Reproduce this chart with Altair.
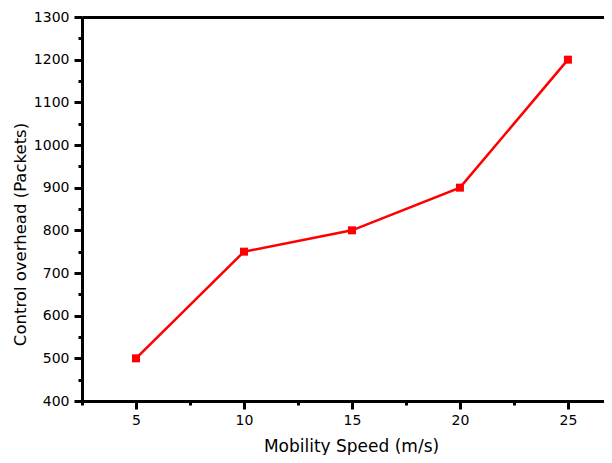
import altair as alt
import pandas as pd

speed = [5, 10, 15, 20, 25]
overhead = [500, 750, 800, 900, 1200]

x_major = [5, 10, 15, 20, 25]
x_minor = [2.5, 7.5, 12.5, 17.5, 22.5]
y_major = [400, 500, 600, 700, 800, 900, 1000, 1100, 1200, 1300]
y_minor = [450, 550, 650, 750, 850, 950, 1050, 1150, 1250]

df = pd.DataFrame({"speed": speed, "overhead": overhead})

FONT = "DejaVu Sans"
xs = alt.Scale(domain=[2.5, 26.67], nice=False, zero=False)
ys = alt.Scale(domain=[400, 1300], nice=False, zero=False)

base = alt.Chart(df)

line = base.mark_line(color="#ff0000", strokeWidth=2.5).encode(
    x=alt.X("speed:Q", scale=xs, axis=alt.Axis(
        orient="bottom", values=x_major, format="d", tickSize=8, tickWidth=3,
        domainWidth=3, domainColor="black", tickColor="black", labelPadding=4,
        labelFont=FONT, labelFontSize=14, labelColor="black", grid=False,
        title="Mobility Speed (m/s)", titleFont=FONT, titleFontSize=17,
        titleFontWeight="normal", titleColor="black", titleX=269, titleY=50,
        titleAlign="center", titleBaseline="alphabetic")),
    y=alt.Y("overhead:Q", scale=ys, axis=alt.Axis(
        orient="left", values=y_major, format="d", tickSize=8, tickWidth=3,
        domainWidth=3, domainColor="black", tickColor="black", labelPadding=5,
        labelFont=FONT, labelFontSize=14, labelColor="black", grid=False,
        title="Control overhead (Packets)", titleFont=FONT, titleFontSize=16.5,
        titleFontWeight="normal", titleColor="black", titleX=-57, titleY=217,
        titleAlign="center", titleBaseline="alphabetic", titleAngle=270)),
)

points = base.mark_square(color="#ff0000", size=64, opacity=1).encode(
    x=alt.X("speed:Q", scale=xs, axis=None),
    y=alt.Y("overhead:Q", scale=ys, axis=None),
)

minor = base.mark_point(opacity=0).encode(
    x=alt.X("speed:Q", scale=xs, axis=alt.Axis(
        orient="bottom", values=x_minor, tickSize=4, tickWidth=3, domain=False,
        tickColor="black", labels=False, grid=False, title=None)),
    y=alt.Y("overhead:Q", scale=ys, axis=alt.Axis(
        orient="left", values=y_minor, tickSize=4, tickWidth=3, domain=False,
        tickColor="black", labels=False, grid=False, title=None)),
)

top = base.mark_point(opacity=0).encode(
    x=alt.X("speed:Q", scale=xs, axis=alt.Axis(
        orient="top", ticks=False, labels=False, domainWidth=3,
        domainColor="black", grid=False, title=None)),
    y=alt.Y("overhead:Q", scale=ys, axis=None),
)

chart = alt.layer(line, points, minor, top).resolve_axis(
    x="independent", y="independent"
).properties(
    width=522, height=384,
    autosize=alt.AutoSizeParams(type="none"),
    padding={"left": 74, "top": 9, "right": 0, "bottom": 54},
    background="white",
).configure_view(stroke=None)

chart.save("out.html", embed_options={"renderer": "svg", "actions": False})
